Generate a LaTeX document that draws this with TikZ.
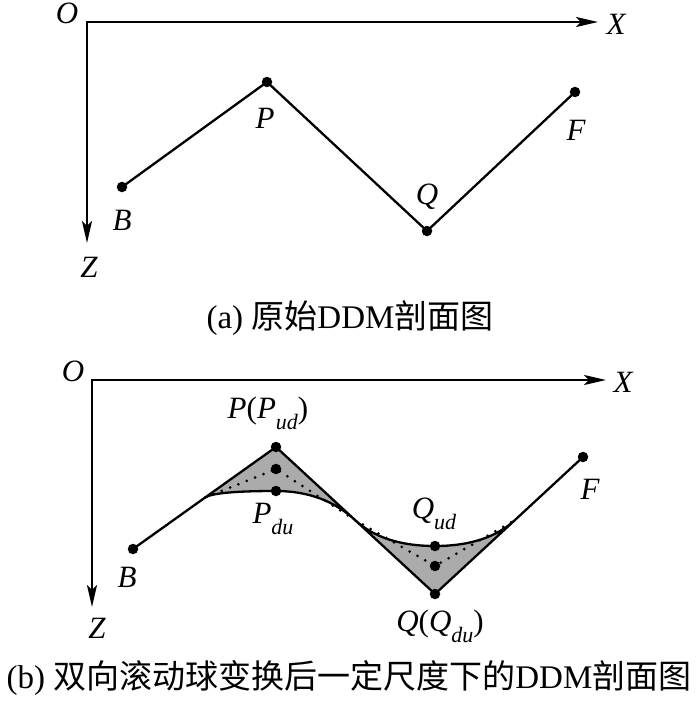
\documentclass[tikz,border=0pt]{standalone}
\usepackage{fontspec}
\setmainfont{Liberation Serif}
\newfontfamily\cjk{Noto Sans CJK SC}
\usetikzlibrary{arrows.meta}
\tikzset{
  axis/.style={line width=2.5pt,{Stealth[length=22pt,width=10pt,inset=5pt]}-{Stealth[length=22pt,width=10pt,inset=5pt]}},
  poly/.style={line width=2.3pt,line join=round},
  dotpt/.style={circle,fill=black,inner sep=0pt,minimum size=10.5pt},
  lab/.style={font=\fontsize{31}{33}\selectfont\itshape,inner sep=0pt},
  captext/.style={font=\fontsize{33}{36}\selectfont,inner sep=0pt},
  shade/.style={fill=black!33,draw=black,line width=2.3pt,line join=round},
  dotline/.style={line width=3pt,line cap=round,dash pattern=on 0pt off 9pt},
}
\newcommand{\sbs}[1]{\raisebox{-0.35em}{\fontsize{22}{22}\selectfont\itshape #1}}
\begin{document}
\begin{tikzpicture}[x=1pt,y=-1pt]
\useasboundingbox (0,0) rectangle (700,701);
% ---------- panel (a)
\coordinate (Oa) at (87,22);
\coordinate (Xa) at (598,22);
\coordinate (Za) at (87,243);
\draw[axis] (Xa) -- (Oa) -- (Za);
\node[lab] (lOa) at (67,13) {O};
\node[lab] (lXa) at (616,24) {X};
\node[lab] (lZa) at (89,267) {Z};
\node[dotpt] (Ba) at (122,187) {};
\node[dotpt] (Pa) at (267,82) {};
\node[dotpt] (Qa) at (427,231) {};
\node[dotpt] (Fa) at (575,92) {};
\draw[poly] (Ba.center) -- (Pa.center) -- (Qa.center) -- (Fa.center);
\node[lab] (lBa) at (122,220) {B};
\node[lab] (lPa) at (265,118) {P};
\node[lab] (lQa) at (427,197) {Q};
\node[lab] (lFa) at (576,130) {F};
\node[captext] (capa) at (350,318) {(a) {\cjk 原始}DDM{\cjk 剖面图}};
% ---------- panel (b)
\coordinate (Ob) at (92,380);
\coordinate (Xb) at (606,380);
\coordinate (Zb) at (92,607);
\draw[axis] (Xb) -- (Ob) -- (Zb);
\node[lab] (lOb) at (73,371) {O};
\node[lab] (lXb) at (623,382) {X};
\node[lab] (lZb) at (97,628) {Z};
\coordinate (Bb) at (133,549);
\coordinate (Pb) at (276,447);
\coordinate (Pm) at (276,469);
\coordinate (Pdu) at (276,491);
\coordinate (Qb) at (435,594);
\coordinate (Qm) at (435,566);
\coordinate (Qud) at (435,546);
\coordinate (Fb) at (583,457);
\coordinate (T1) at (205,497.6);
\coordinate (T2) at (355,520);
\coordinate (T3) at (515,520);
% shaded regions
\draw[shade] (T1) -- (Pb) -- (T2)
  .. controls (334.1,500.7) and (307.7,491) .. (Pdu)
  .. controls (234.9,491) and (211.2,493.2) .. (T1) -- cycle;
\draw[shade] (T2) -- (Qb) -- (T3)
  .. controls (496.3,537.3) and (469.6,546) .. (Qud)
  .. controls (400.4,546) and (373.7,537.3) .. (T2) -- cycle;
\draw[poly] (Bb) -- (T1);
\draw[poly] (T3) -- (Fb);
\draw[dotline] (T1) -- (Pm) -- (T2);
\draw[dotline] (T2) -- (Qm) -- (T3);
\node[dotpt] (nB) at (Bb) {};
\node[dotpt] (nP) at (Pb) {};
\node[dotpt] (nPm) at (Pm) {};
\node[dotpt] (nPdu) at (Pdu) {};
\node[dotpt] (nQ) at (Qb) {};
\node[dotpt] (nQm) at (Qm) {};
\node[dotpt] (nQud) at (Qud) {};
\node[dotpt] (nF) at (Fb) {};
\node[lab] (lBb) at (127,577) {B};
\node[lab] (lFb) at (590,489) {F};
\node[lab] (lPb) at (268,413) {P\upshape(\itshape P\sbs{ud}\upshape)};
\node[lab] (lPdu) at (273,519) {P\sbs{du}};
\node[lab] (lQud) at (434,514) {Q\sbs{ud}};
\node[lab] (lQb) at (440,626) {Q\upshape(\itshape Q\sbs{du}\upshape)};
\node[captext] (capb) at (349,678) {(b) {\cjk 双向滚动球变换后一定尺度下的}DDM{\cjk 剖面图}};
\end{tikzpicture}
\end{document}
